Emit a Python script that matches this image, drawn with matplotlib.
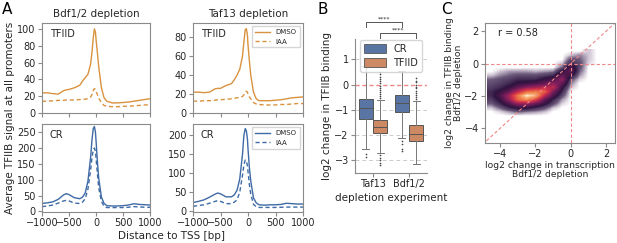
import numpy as np
import matplotlib
matplotlib.use("Agg")
import matplotlib.pyplot as plt
from matplotlib.colors import LinearSegmentedColormap
from matplotlib.patches import Patch

# ---------------- data ----------------
# Panel A: average TFIIB signal around the TSS
dist = [-1000, -900, -800, -700, -600, -550, -500, -400, -300, -250, -200, -150, -100, -75, -50, -30,
        -10, 0, 25, 50, 100, 150, 200, 300, 400, 500, 600, 700, 800, 900, 1000]

bdf_tfiid_dmso = [24, 24, 23, 22.5, 26.5, 27.5, 28, 30, 33, 38, 42, 46, 58, 72, 90, 100,
                  96, 88, 72, 55, 30, 18, 14, 12, 12, 12.5, 13, 14, 15, 16, 17]
bdf_tfiid_iaa = [14, 14, 14.5, 15, 15, 15.5, 15.5, 15.5, 16, 16, 16.5, 17, 19, 22, 27, 29,
                 28, 26, 22, 18, 12, 9, 8, 7.5, 7.5, 8, 8, 8.5, 9, 9.5, 10]
bdf_cr_dmso = [25, 27, 30, 38, 52, 56, 53, 43, 40, 45, 58, 95, 170, 225, 262, 268,
               250, 225, 160, 105, 45, 25, 18, 17, 17, 18, 20, 24, 22, 21, 20]
bdf_cr_iaa = [15, 17, 20, 26, 33, 35, 33, 26, 25, 29, 40, 70, 130, 170, 195, 200,
              190, 170, 120, 75, 32, 16, 12, 12, 12, 12, 13, 15, 14, 13, 13]
taf_tfiid_dmso = [22, 22, 21.5, 22, 25.5, 26, 26, 29, 31, 35, 40, 46, 60, 75, 88, 89,
                  82, 72, 55, 40, 22, 15, 13, 13, 13, 13.5, 14, 15, 16, 16.5, 17]
taf_tfiid_iaa = [12.5, 12.5, 13, 13, 13.5, 14, 14, 14.5, 15, 15.5, 16, 16.5, 17.5, 19, 22, 23,
                 22, 20, 17, 15, 11, 9.5, 9, 8.5, 8.5, 8.5, 9, 9, 9.5, 10, 10]
taf_cr_dmso = [23, 26, 30, 37, 45, 48, 46, 38, 38, 43, 55, 85, 150, 200, 218, 212,
               190, 165, 115, 80, 35, 22, 17, 16, 17, 17, 18, 21, 20, 19, 19]
taf_cr_iaa = [13, 15, 17, 21, 26, 28, 26, 20, 20, 24, 30, 50, 95, 122, 135, 133,
              120, 105, 70, 45, 18, 12, 10, 10, 10, 10, 10.5, 11, 11, 11, 11]

# Panel B: box statistics (order: Taf13 CR, Taf13 TFIID, Bdf1/2 CR, Bdf1/2 TFIID)
experiments = ["Taf13", "Bdf1/2"]
box_med = [-0.93, -1.68, -0.72, -1.95]
box_q1 = [-1.35, -1.93, -1.10, -2.25]
box_q3 = [-0.57, -1.40, -0.42, -1.60]
box_lo = [-2.55, -2.72, -2.10, -3.15]
box_hi = [0.72, -0.62, 0.55, -0.65]
box_fliers = [
    [-2.75, -2.85],
    [-0.55, -0.45, -0.38, -0.3, -0.22, -0.12, -0.05, 0.05, 0.12, 0.22, 0.3, 0.4, 0.5,
     -2.8, -2.9, -3.0, -3.1, -3.2],
    [-2.25, -2.35, -2.55, -2.62],
    [-0.58, -0.5, -0.42, -0.33, -0.25, -0.15, -0.08, 0.0, 0.08, 0.15, 0.25],
]

# Panel C: point density of log2 change in transcription (x) vs TFIIB binding (y)
dens_x = [-4.5, -4.0, -3.5, -3.0, -2.5, -2.0, -1.5, -1.0, -0.5, 0.0, 0.5, 1.0, 1.5]
dens_y = [0.75, 0.5, 0.25, 0.0, -0.25, -0.5, -0.75, -1.0, -1.25, -1.5, -1.75, -2.0,
          -2.25, -2.5, -2.75, -3.0, -3.25]
density = [
    [0, 0, 0, 0, 0, 0, 0, 0, 0, 0, 0, 0.3, 0],
    [0, 0, 0, 0, 0, 0, 0, 0, 0, 0.3, 0.6, 0.3, 0],
    [0, 0, 0, 0, 0, 0, 0, 0, 0, 1.0, 0.8, 0.3, 0],
    [0, 0, 0, 0, 0, 0, 0, 0, 0.3, 1.5, 1.0, 0.2, 0],
    [0, 0, 0, 0, 0, 0, 0, 0, 0.8, 2.5, 1.0, 0, 0],
    [0, 0.3, 0.5, 0.5, 0.5, 0.4, 0.5, 0.6, 2.0, 3.0, 0.8, 0, 0],
    [0.3, 0.6, 0.8, 1.0, 1.0, 1.0, 1.2, 1.5, 3.0, 2.0, 0.5, 0, 0],
    [0.8, 1.0, 1.2, 1.5, 1.5, 1.5, 2.0, 2.5, 4.0, 1.0, 0.2, 0, 0],
    [1.0, 1.2, 1.5, 2.0, 2.2, 2.5, 3.0, 4.0, 3.0, 0.6, 0, 0, 0],
    [1.2, 1.5, 2.0, 3.0, 4.0, 4.5, 5.0, 5.0, 2.0, 0.3, 0, 0, 0],
    [1.5, 2.0, 3.0, 5.0, 7.0, 7.5, 7.0, 3.5, 1.5, 0, 0, 0, 0],
    [1.5, 2.5, 4.5, 7.5, 10.0, 9.0, 5.0, 2.5, 1.0, 0, 0, 0, 0],
    [1.2, 2.0, 4.0, 7.0, 8.0, 6.0, 3.0, 1.5, 0.5, 0, 0, 0, 0],
    [0.8, 1.5, 2.5, 4.0, 4.0, 3.0, 2.0, 1.0, 0.2, 0, 0, 0, 0],
    [0.3, 0.8, 1.5, 2.0, 2.0, 1.5, 1.0, 0.3, 0, 0, 0, 0, 0],
    [0, 0.2, 0.5, 0.8, 0.6, 0.5, 0.3, 0, 0, 0, 0, 0, 0],
    [0, 0, 0, 0, 0, 0, 0, 0, 0, 0, 0, 0, 0],
]
r_value = 0.58

# ---------------- style ----------------
ORANGE = "#d9923f"
BLUE = "#3e6aa6"
BOX_BLUE = "#5875a4"
BOX_ORANGE = "#cc8963"
SPINE = "#8a8a8a"
TXT = "#262626"

plt.rcParams["font.family"] = "DejaVu Sans"
plt.rcParams["font.size"] = 7
plt.rcParams["axes.edgecolor"] = SPINE
plt.rcParams["axes.linewidth"] = 0.8
plt.rcParams["xtick.color"] = SPINE
plt.rcParams["ytick.color"] = SPINE
plt.rcParams["xtick.labelcolor"] = TXT
plt.rcParams["ytick.labelcolor"] = TXT
plt.rcParams["xtick.major.size"] = 3
plt.rcParams["ytick.major.size"] = 3
plt.rcParams["axes.labelcolor"] = TXT
plt.rcParams["text.color"] = TXT

fig = plt.figure(figsize=(6.17, 2.43), dpi=100)
W, H = 617.0, 243.0


def add_ax(x0, y0, x1, y1):
    return fig.add_axes([x0 / W, 1 - y1 / H, (x1 - x0) / W, (y1 - y0) / H])


# ---------------- panel A ----------------
axA = {
    ("bdf", "tfiid"): add_ax(42, 23, 150, 113),
    ("bdf", "cr"): add_ax(42, 124, 150, 212),
    ("taf", "tfiid"): add_ax(193, 23, 303, 113),
    ("taf", "cr"): add_ax(193, 124, 303, 212),
}
series = {
    ("bdf", "tfiid"): (bdf_tfiid_dmso, bdf_tfiid_iaa, ORANGE, (0, 107), [0, 20, 40, 60, 80, 100]),
    ("bdf", "cr"): (bdf_cr_dmso, bdf_cr_iaa, BLUE, (-2, 276), [0, 50, 100, 150, 200, 250]),
    ("taf", "tfiid"): (taf_tfiid_dmso, taf_tfiid_iaa, ORANGE, (0, 95), [0, 20, 40, 60, 80]),
    ("taf", "cr"): (taf_cr_dmso, taf_cr_iaa, BLUE, (-2, 230), [0, 50, 100, 150, 200]),
}
for key, ax in axA.items():
    dmso, iaa, col, ylim, yt = series[key]
    ax.plot(dist, dmso, color=col, lw=1.0, label="DMSO")
    ax.plot(dist, iaa, color=col, lw=1.0, ls=(0, (3, 2)), label="IAA")
    ax.set_xlim(-1000, 1000)
    ax.set_ylim(*ylim)
    ax.set_yticks(yt)
    ax.set_xticks([-1000, -500, 0, 500, 1000])
    ax.tick_params(labelsize=7, pad=1.5, width=0.8)
    ax.text(0.07, 0.93, "TFIID" if key[1] == "tfiid" else "CR", transform=ax.transAxes,
            ha="left", va="top", fontsize=7)
    if key[1] == "tfiid":
        ax.tick_params(labelbottom=False)
    if key[0] == "taf":
        ax.legend(loc="upper right", fontsize=5, frameon=True, handlelength=2.2,
                  borderpad=0.4, labelspacing=0.5, edgecolor="#cccccc", fancybox=False)

axA[("bdf", "tfiid")].set_title("Bdf1/2 depletion", fontsize=7.5, pad=4)
axA[("taf", "tfiid")].set_title("Taf13 depletion", fontsize=7.5, pad=4)
fig.text(10 / W, 1 - 118 / H, "Average TFIIB signal at all promoters", rotation=90,
         ha="center", va="center", fontsize=7.5)
fig.text(172 / W, 1 - 236 / H, "Distance to TSS [bp]", ha="center", va="center", fontsize=7.5)

# ---------------- panel B ----------------
axB = add_ax(355, 39, 427, 173)
positions = [-0.2, 0.2, 0.8, 1.2]
stats = []
for i in range(4):
    stats.append(dict(med=box_med[i], q1=box_q1[i], q3=box_q3[i], whislo=box_lo[i],
                      whishi=box_hi[i], fliers=box_fliers[i]))
for yv in [1, -1, -2, -3]:
    axB.axhline(yv, color="#cccccc", lw=0.7, ls=(0, (4, 3)), zorder=0)
axB.axhline(0, color="#ee8888", lw=1.0, ls=(0, (3, 2)), zorder=0)
bp = axB.bxp(stats, positions=positions, widths=0.4, patch_artist=True,
             boxprops=dict(edgecolor="#555555", linewidth=0.7),
             medianprops=dict(color="#555555", linewidth=0.7),
             whiskerprops=dict(color="#777777", linewidth=0.7),
             capprops=dict(color="#777777", linewidth=0.7),
             flierprops=dict(marker="o", markersize=1.2, markerfacecolor="#444444",
                             markeredgecolor="none"))
for patch, col in zip(bp["boxes"], [BOX_BLUE, BOX_ORANGE, BOX_BLUE, BOX_ORANGE]):
    patch.set_facecolor(col)
axB.set_xlim(-0.5, 1.5)
axB.set_ylim(-3.5, 1.8)
axB.set_xticks([0, 1])
axB.set_xticklabels(experiments)
axB.set_yticks([1, 0, -1, -2, -3])
axB.spines["top"].set_visible(False)
axB.spines["right"].set_visible(False)
axB.tick_params(labelsize=7, pad=1.5, width=0.8)
axB.set_ylabel("log2 change in TFIIB binding", fontsize=7.5, labelpad=2)
axB.set_xlabel("depletion experiment", fontsize=7.5, labelpad=3)
axB.legend(handles=[Patch(facecolor=BOX_BLUE, edgecolor="#555555", lw=0.6, label="CR"),
                    Patch(facecolor=BOX_ORANGE, edgecolor="#555555", lw=0.6, label="TFIID")],
           loc="upper right", bbox_to_anchor=(1.0, 1.03), fontsize=7, handlelength=2.2,
           handleheight=1.0, borderpad=0.4, labelspacing=0.4, edgecolor="#cccccc")
# significance brackets
for (xa, xb, yb, h) in [(-0.2, 0.8, 2.47, 0.2), (0.2, 1.2, 2.04, 0.2)]:
    axB.plot([xa, xa, xb, xb], [yb - h, yb, yb, yb - h], color="#555555", lw=0.7, clip_on=False)
    axB.text((xa + xb) / 2, yb + 0.02, "****", ha="center", va="bottom", fontsize=4.5)

# ---------------- panel C ----------------
axC = add_ax(485, 23, 615, 143)
cmap = LinearSegmentedColormap.from_list(
    "dens", [(0.0, "#ffffff"), (0.02, "#ddd5e0"), (0.08, "#6d5a7c"), (0.18, "#2e1440"),
             (0.35, "#7b1d5c"), (0.55, "#d3304b"), (0.75, "#f07a45"), (0.9, "#f8b57c"),
             (1.0, "#fdf1dc")])
axC.imshow(np.array(density), extent=(dens_x[0] - 0.25, dens_x[-1] + 0.25,
                                      dens_y[-1] - 0.125, dens_y[0] + 0.125),
           origin="upper", cmap=cmap, vmin=0, vmax=10, interpolation="bilinear",
           aspect="auto", zorder=1)
axC.axvline(0, color="#ee8888", lw=0.8, ls=(0, (3, 2)), zorder=2)
axC.axhline(0, color="#ee8888", lw=0.8, ls=(0, (3, 2)), zorder=2)
axC.plot([-5, 2.5], [-5, 2.5], color="#ee8888", lw=0.8, ls=(0, (3, 2)), zorder=2)
axC.set_xlim(-4.85, 2.5)
axC.set_ylim(-4.9, 2.5)
axC.set_xticks([-4, -2, 0, 2])
axC.set_yticks([-4, -2, 0, 2])
axC.tick_params(labelsize=7, pad=1.5, width=0.8)
axC.text(-4.1, 1.9, "r = %.2f" % r_value, ha="left", va="center", fontsize=7)
axC.set_ylabel("log2 change in TFIIB binding\nBdf1/2 depletion", fontsize=6.6, labelpad=1,
               linespacing=1.0)
axC.set_xlabel("log2 change in transcription\nBdf1/2 depletion", fontsize=6.6, labelpad=1,
               linespacing=1.0)

# panel letters
for lab, x, y in [("A", 2, 10), ("B", 318, 10), ("C", 441, 9)]:
    fig.text(x / W, 1 - y / H, lab, fontsize=11, ha="left", va="center", color="black")

fig.savefig("out.png", dpi=100)
